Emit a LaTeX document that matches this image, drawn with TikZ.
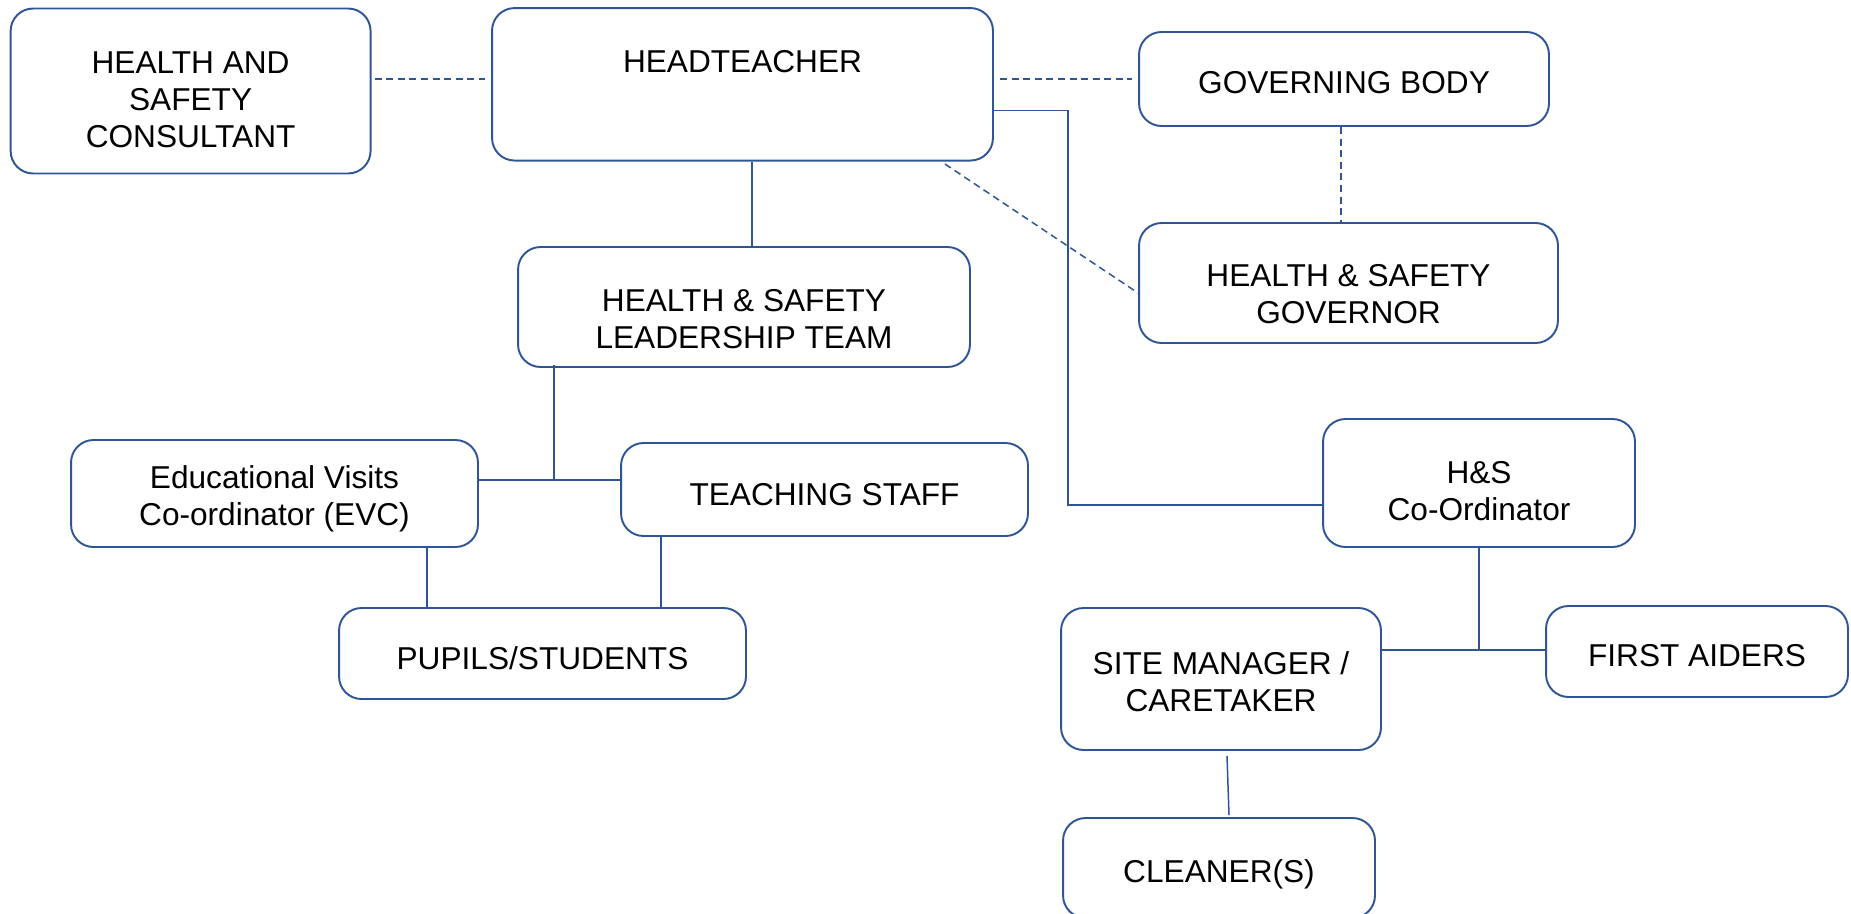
\documentclass[tikz,border=0pt]{standalone}
\usepackage{fontspec}
\setmainfont{Liberation Sans}
\definecolor{chartblue}{RGB}{47,85,151}
\newcommand{\boxgap}[1]{\rule{0pt}{#1}}
\tikzset{
        rolebox/.style={draw=chartblue, line width=1.1pt, rounded corners=0.45cm, align=center, inner sep=0pt, font=\fontsize{18}{21}\selectfont},
        link/.style={draw=chartblue, line width=0.85pt},
        dashlink/.style={link, dash pattern=on 4pt off 2.6pt}
}
\begin{document}
\begin{tikzpicture}[x=0.02cm, y=-0.02cm]
        \useasboundingbox (0,0) rectangle (1851,913);
        \clip (0,0) rectangle (1851,913);
        % boxes
        \node[rolebox, minimum width=7.2cm, minimum height=3.3cm] (consultant) at (190.6,91) {\boxgap{0.78cm}HEALTH AND\\SAFETY\\CONSULTANT};
        \node[rolebox, minimum width=10.02cm, minimum height=3.05cm, label={[anchor=center, label distance=-1.1cm, font=\fontsize{18}{21}\selectfont]north:HEADTEACHER}] (head) at (742.5,84.3) {};
        \node[rolebox, minimum width=8.2cm, minimum height=1.88cm] (governors) at (1344,79) {\boxgap{0.6cm}GOVERNING BODY};
        \node[rolebox, minimum width=8.38cm, minimum height=2.4cm] (hsgovernor) at (1348.5,283) {\boxgap{0.88cm}HEALTH \& SAFETY\\GOVERNOR};
        \node[rolebox, minimum width=9.04cm, minimum height=2.4cm] (leaders) at (744,307) {\boxgap{0.94cm}HEALTH \& SAFETY\\LEADERSHIP TEAM};
        \node[rolebox, minimum width=8.14cm, minimum height=2.14cm] (evc) at (274.5,493.5) {\boxgap{0.68cm}Educational Visits\\Co-ordinator (EVC)};
        \node[rolebox, minimum width=8.14cm, minimum height=1.86cm] (staff) at (824.5,489.5) {\boxgap{0.64cm}TEACHING STAFF};
        \node[rolebox, minimum width=8.14cm, minimum height=1.82cm] (pupils) at (542.5,653.5) {\boxgap{0.64cm}PUPILS/STUDENTS};
        \node[rolebox, minimum width=6.24cm, minimum height=2.56cm] (hscoord) at (1479,483) {\boxgap{0.76cm}H\&S\\Co-Ordinator};
        \node[rolebox, minimum width=6.4cm, minimum height=2.84cm] (site) at (1221,679) {\boxgap{0.56cm}SITE MANAGER /\\CARETAKER};
        \node[rolebox, minimum width=6.04cm, minimum height=1.82cm] (aiders) at (1697,651.5) {\boxgap{0.6cm}FIRST AIDERS};
        \node[rolebox, minimum width=6.24cm, minimum height=2cm] (cleaners) at (1219,868) {\boxgap{0.7cm}CLEANER(S)};
        % dashed links
        \draw[dashlink] ([xshift=0.06cm]consultant.east |- governors.west) -- ([xshift=-0.12cm]head.west |- governors.west);
        \draw[dashlink] ([xshift=0.12cm]head.east |- governors.west) -- ([xshift=-0.12cm]governors.west);
        \draw[dashlink] ([xshift=-0.06cm]governors.south) -- ([xshift=-0.06cm]governors.south |- hsgovernor.north);
        \draw[dashlink] ([xshift=-0.98cm, yshift=-0.05cm]head.south east) -- ([yshift=-0.2cm]hsgovernor.west);
        % solid links
        \coordinate (hsturn) at (1068,110.5);
        \draw[link] (head.east |- hsturn) -- (hsturn) |- ([yshift=-0.44cm]hscoord.west);
        \draw[link] ([xshift=0.19cm]head.south) -- ([xshift=0.19cm]head.south |- leaders.north);
        \coordinate (ltjoin) at (554,480);
        \draw[link] ([yshift=0.06cm]ltjoin |- leaders.south) -- (ltjoin);
        \draw[link] (evc.east |- ltjoin) -- (staff.west |- ltjoin);
        \coordinate (evcdrop) at (427,0);
        \coordinate (staffdrop) at (661,0);
        \draw[link] (evcdrop |- evc.south) -- (evcdrop |- pupils.north);
        \draw[link] (staffdrop |- staff.south) -- (staffdrop |- pupils.north);
        \coordinate (hsjoin) at (1479,650);
        \draw[link] (hscoord.south) -- (hsjoin);
        \draw[link] (site.east |- hsjoin) -- (aiders.west |- hsjoin);
        \draw[link] ([xshift=0.12cm, yshift=-0.1cm]site.south) -- ([xshift=0.2cm, yshift=0.04cm]cleaners.north);
\end{tikzpicture}
\end{document}
